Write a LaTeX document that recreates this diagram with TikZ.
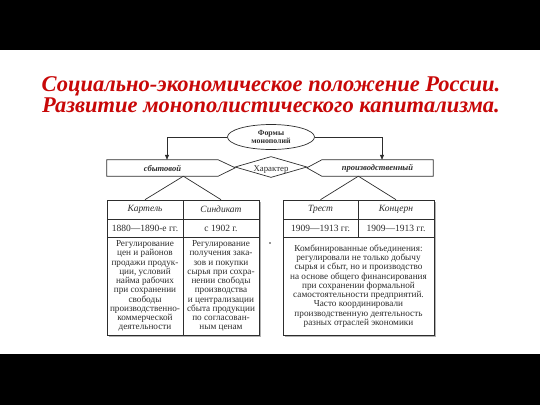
\documentclass[tikz,border=0pt]{standalone}
\usepackage{fontspec}
\setmainfont{Liberation Serif}
\usetikzlibrary{shapes.geometric,arrows.meta}
\definecolor{titlered}{RGB}{200,8,8}
\definecolor{ink}{RGB}{45,45,45}
\begin{document}
\begin{tikzpicture}[x=1pt,y=-1pt,
  ln/.style={draw=ink,line width=0.7pt},
  cell/.style={ln,fill=white,rectangle,inner sep=0pt,align=center,text=ink},
  body/.style={font=\fontsize{9.2}{9.25}\selectfont},
  head/.style={font=\fontsize{9.5}{10}\selectfont\itshape},
  date/.style={font=\fontsize{9.5}{10}\selectfont},
  arr/.style={ln,-{Triangle[length=5pt,width=4pt]}}]
\useasboundingbox (0,0) rectangle (540,405);
\fill[black] (0,0) rectangle (540,50);
\fill[black] (0,354) rectangle (540,405);
% title
\node[font=\fontsize{22.5}{21}\selectfont\bfseries\itshape,text=titlered,align=center] (title) at (271,94.5)
 {Социально-экономическое положение России.\\Развитие монополистического капитализма.};
% top
\node[ellipse,ln,minimum width=87,minimum height=25,inner sep=0pt,align=center,text=ink,
  font=\fontsize{7.8}{8.3}\selectfont\bfseries] (ell) at (271,137) {Формы\\монополий};
\node[rectangle,inner sep=0pt,minimum width=111,minimum height=16,text=ink,
  font=\fontsize{8.5}{9}\selectfont\bfseries\itshape] (sbyt) at (162.5,168) {сбытовой};
\draw[ln] (sbyt.north west) -- (sbyt.north east) -- ++(17,8) -- (sbyt.south east) -- (sbyt.south west) -- cycle;
\node[rectangle,inner sep=0pt,minimum width=111,minimum height=16,text=ink,
  font=\fontsize{8.5}{9}\selectfont\bfseries\itshape] (prod) at (377.5,168) {производственный};
\draw[ln] (prod.north east) -- (prod.north west) -- ++(-15,8) -- (prod.south west) -- (prod.south east) -- cycle;
\node[diamond,ln,minimum width=72,minimum height=21,inner sep=0pt,aspect=3.4,text=ink,
  font=\fontsize{8.8}{10}\selectfont] (har) at (271,167) {\raisebox{-4.2pt}[0pt][0pt]{Характер}};
\draw[arr] (ell.west) -| ([xshift=4.5pt]sbyt.north);
\draw[arr] (ell.east) -| ([xshift=4.5pt]prod.north);
% shadows
\fill[black!30] (108.5,201.5) rectangle (260.5,336.5);
\fill[black!30] (284.5,201.5) rectangle (435.5,336.5);
% left table
\node[cell,head,minimum width=76,minimum height=19] (kart) at (145,209.5) {Картель};
\node[cell,head,minimum width=76,minimum height=19] (sind) at (221,209.5) {Синдикат};
\node[cell,date,minimum width=76,minimum height=18] (d1) at (145,228) {1880—1890-е гг.};
\node[cell,date,minimum width=76,minimum height=18] (d2) at (221,228) {с 1902 г.};
\node[cell,body,minimum width=76,minimum height=98] (b1) at (145,286)
 {Регулирование\\цен и районов\\продажи продук-\\ции, условий\\найма рабочих\\при сохранении\\свободы\\производственно-\\коммерческой\\деятельности};
\node[cell,body,minimum width=76,minimum height=98] (b2) at (221,286)
 {Регулирование\\получения зака-\\зов и покупки\\сырья при сохра-\\нении свободы\\производства\\и централизации\\сбыта продукции\\по согласован-\\ным ценам};
% right table
\node[cell,head,minimum width=75,minimum height=19] (trest) at (320.5,209.5) {Трест};
\node[cell,head,minimum width=76,minimum height=19] (konc) at (396,209.5) {Концерн};
\node[cell,date,minimum width=75,minimum height=18] (d3) at (320.5,228) {1909—1913 гг.};
\node[cell,date,minimum width=76,minimum height=18] (d4) at (396,228) {1909—1913 гг.};
\node[cell,body,minimum width=151,minimum height=98] (b3) at (358.5,286)
 {Комбинированные объединения:\\регулировали не только добычу\\сырья и сбыт, но и производство\\на основе общего финансирования\\при сохранении формальной\\самостоятельности предприятий.\\Часто координировали\\производственную деятельность\\разных отраслей экономики};
% connectors
\draw[ln] (sbyt.south -| kart.east) -- (kart.north);
\draw[ln] (sbyt.south -| kart.east) -- (sind.north);
\draw[ln] (prod.south -| trest.east) -- (trest.north);
\draw[ln] (prod.south -| trest.east) -- (konc.north);
\fill[ink] (270,243) circle (0.8);
\end{tikzpicture}
\end{document}
